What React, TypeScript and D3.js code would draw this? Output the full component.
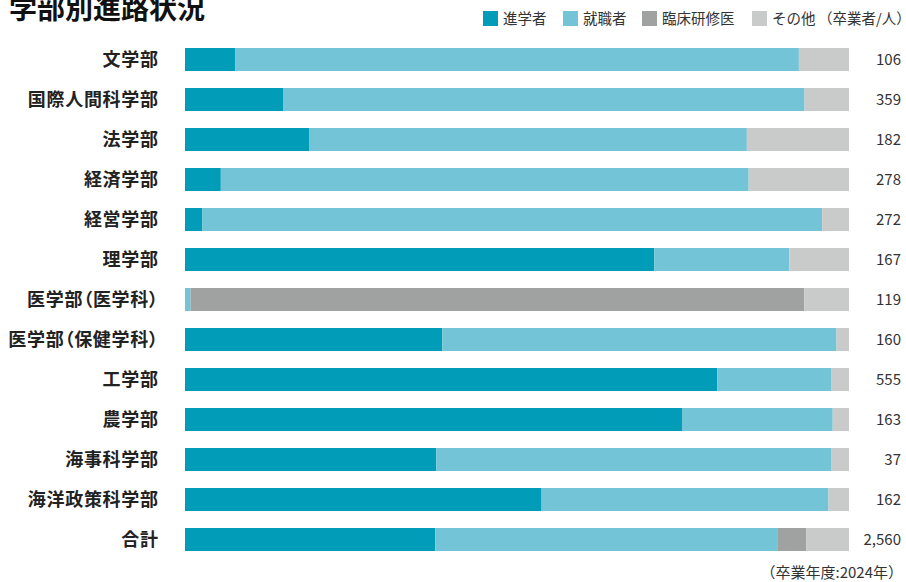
import React from "react";
import * as d3 from "d3";

const categories = [
  "文学部",
  "国際人間科学部",
  "法学部",
  "経済学部",
  "経営学部",
  "理学部",
  "医学部（医学科）",
  "医学部（保健学科）",
  "工学部",
  "農学部",
  "海事科学部",
  "海洋政策科学部",
  "合計",
];
const seriesNames = ["進学者", "就職者", "臨床研修医", "その他"];
const shingaku = [8, 53, 34, 15, 7, 118, 0, 62, 445, 122, 14, 87, 965];
const shushoku = [90, 282, 120, 221, 254, 34, 1, 95, 95, 37, 22, 70, 1321];
const rinsho = [0, 0, 0, 0, 0, 0, 110, 0, 0, 0, 0, 0, 110];
const sonota = [8, 24, 28, 42, 11, 15, 8, 3, 15, 4, 1, 5, 164];
const totalLabels = ["106", "359", "182", "278", "272", "167", "119", "160", "555", "163", "37", "162", "2,560"];
const colors = ["#009cb8", "#72c4d6", "#a0a2a2", "#c9caca"];

const W = 906;
const H = 582;
const FONT = "'Noto Sans CJK JP', 'Noto Sans', sans-serif";

function splitParens(s: string) {
  const parts: { t: string; p: boolean }[] = [];
  let buf = "";
  for (const ch of s) {
    if (ch === "（" || ch === "）") {
      if (buf) parts.push({ t: buf, p: false });
      parts.push({ t: ch, p: true });
      buf = "";
    } else buf += ch;
  }
  if (buf) parts.push({ t: buf, p: false });
  return parts;
}

export default function App() {
  const series = [shingaku, shushoku, rinsho, sonota];
  const rows = categories.map((c, i) => {
    const vals = series.map((s) => s[i]);
    const total = d3.sum(vals);
    let acc = 0;
    const segs = vals.map((v, k) => {
      const s = { k, x0: acc / total, x1: (acc + v) / total };
      acc += v;
      return s;
    });
    return { c, i, segs };
  });

  const x = d3.scaleLinear().domain([0, 1]).range([185, 849]);
  const y = d3
    .scaleBand<string>()
    .domain(categories)
    .range([39.5, 559.5])
    .paddingInner(0.425)
    .paddingOuter(0.2125);
  const bw = y.bandwidth();

  const legendX = [483, 563, 642, 752];

  return (
    <svg
      width={W}
      height={H}
      style={{ position: "absolute", left: 0, top: 0, display: "block", background: "#fff" }}
      fontFamily={FONT}
    >
      <text x={9} y={19} fontSize={28} fontWeight={700} fill="#111">
        学部別進路状況
      </text>

      {seriesNames.map((n, k) => (
        <g key={n}>
          <rect x={legendX[k]} y={11} width={15} height={15} fill={colors[k]} />
          <text x={legendX[k] + 20} y={18.5} dy="0.36em" fontSize={14.5} fill="#333">
            {n}
          </text>
        </g>
      ))}
      <text x={818} y={18.5} dy="0.36em" fontSize={14.5} fill="#333">
        （卒業者/人）
      </text>

      {rows.map((r) => {
        const y0 = y(r.c)!;
        const cy = y0 + bw / 2;
        return (
          <g key={r.c}>
            <text
              x={158.7}
              y={cy}
              dy="0.36em"
              fontSize={18}
              letterSpacing={0.7}
              fontWeight={700}
              fill="#222"
              textAnchor="end"
            >
              {splitParens(r.c).map((p, j) => (
                <tspan key={j} style={p.p ? { fontFeatureSettings: "'palt'" } : undefined}>
                  {p.t}
                </tspan>
              ))}
            </text>
            {r.segs
              .filter((s) => s.x1 > s.x0)
              .map((s) => (
                <rect
                  key={s.k}
                  x={x(s.x0)}
                  y={y0}
                  width={x(s.x1) - x(s.x0)}
                  height={bw}
                  fill={colors[s.k]}
                />
              ))}
            <text x={901} y={cy} dy="0.36em" fontSize={15} fill="#333" textAnchor="end">
              {totalLabels[r.i]}
            </text>
          </g>
        );
      })}

      <text x={903} y={573} dy="0.36em" fontSize={15} fill="#333" textAnchor="end">
        （卒業年度:2024年）
      </text>
    </svg>
  );
}
